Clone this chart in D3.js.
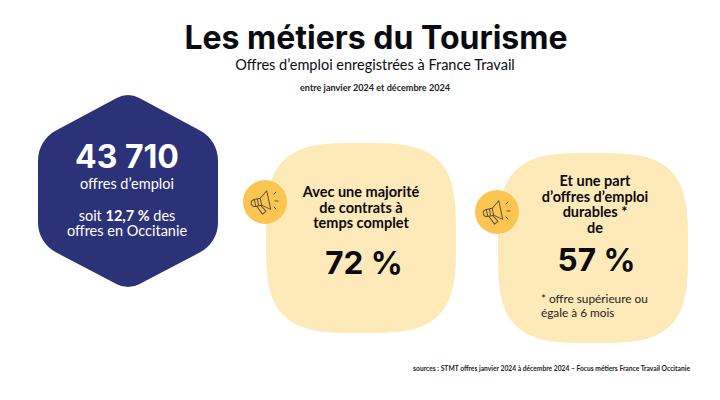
<!DOCTYPE html>
<html>
<head>
<meta charset="utf-8">
<script src="https://cdn.jsdelivr.net/npm/d3@7"></script>
<style>
  html, body { margin: 0; padding: 0; background: #fff; }
  text { font-family: Lato, sans-serif; }
  text.big { font-family: Inter, sans-serif; }
</style>
</head>
<body>
<div id="chart"></div>
<script>
var width = 720, height = 400;

// Texts and figures
var title = "Les métiers du Tourisme";
var subtitle = "Offres d’emploi enregistrées à France Travail";
var period = "entre janvier 2024 et décembre 2024";
var totalOffers = "43 710";
var totalLabel = "offres d’emploi";
var shareValue = "12,7 %";
var cardLines1 = ["Avec une majorité", "de contrats à", "temps complet"];
var cardValue1 = "72 %";
var cardLines2 = ["Et une part", "d’offres d’emploi", "durables *", "de"];
var cardValue2 = "57 %";
var footnote = ["* offre supérieure ou", "égale à 6 mois"];
var source = "sources : STMT offres janvier 2024 à décembre 2024 – Focus métiers France Travail Occitanie";

var navy = "#2b3278", cream = "#fee9b9", amber = "#fbc551", ink = "#0b0b0f";

var svg = d3.select("#chart").append("svg")
    .attr("width", width)
    .attr("height", height)
    .style("display", "block");

function label(x, y, txt, size, weight, anchor, fill) {
  return svg.append("text")
      .attr("x", x).attr("y", y)
      .attr("font-size", size)
      .attr("font-weight", weight)
      .attr("text-anchor", anchor || "middle")
      .attr("fill", fill || ink)
      .text(txt);
}

// Header
label(376, 49, title, 32, 700).attr("class", "big");
label(375, 70, subtitle, 14.5, 400);
label(375, 91, period, 9.1, 700, "middle", "#222");

// Rounded hexagon
var hex = d3.path();
var corners = [[128, 92], [218, 140], [218, 243], [128, 290], [38, 243], [38, 140]];
hex.moveTo(173, 116);
[1, 2, 3, 4, 5, 0].forEach(function(i) {
  var p = corners[i], next = corners[(i + 1) % 6];
  hex.arcTo(p[0], p[1], next[0], next[1], i == 0 || i == 3 ? 24 : 34);
});
hex.closePath();
svg.append("path").attr("d", hex.toString()).attr("fill", navy);

label(127, 168, totalOffers, 32, 700, "middle", "#fff").attr("class", "big");
label(127, 189, totalLabel, 14.5, 400, "middle", "#fff");
var share = label(127, 220.5, "soit ", 14.5, 400, "middle", "#fff");
share.append("tspan").attr("font-weight", 700).text(shareValue);
share.append("tspan").text(" des");
label(127, 236, "offres en Occitanie", 14.5, 400, "middle", "#fff");

// Cards: superellipse blobs
function blob(x0, x1, y0, y1) {
  var n = 3.4;
  var sx = d3.scaleLinear().domain([-1, 1]).range([x0, x1]);
  var sy = d3.scaleLinear().domain([-1, 1]).range([y0, y1]);
  var line = d3.line()
      .x(function(t) { var c = Math.cos(t); return sx(Math.sign(c) * Math.pow(Math.abs(c), 2 / n)); })
      .y(function(t) { var s = Math.sin(t); return sy(Math.sign(s) * Math.pow(Math.abs(s), 2 / n)); })
      .curve(d3.curveLinearClosed);
  return line(d3.range(0, 2 * Math.PI, 0.02));
}

svg.append("path").attr("d", blob(266, 456, 143, 333)).attr("fill", cream);
svg.append("path").attr("d", blob(498, 688, 153, 343)).attr("fill", cream);

// Megaphone badge
function badge(cx, cy) {
  var g = svg.append("g").attr("transform", "translate(" + cx + "," + cy + ")");
  g.append("circle").attr("r", 22).attr("fill", amber);
  var stroke = g.append("g")
      .attr("fill", "none")
      .attr("stroke", "#5f5040")
      .attr("stroke-width", 1)
      .attr("stroke-linejoin", "round")
      .attr("stroke-linecap", "round");
  var horn = stroke.append("g").attr("transform", "translate(-3,0) rotate(-12)");
  horn.append("path").attr("d", "M-7,-4 L-1,-4 L7,-10 L7,9 L-1,3 L-7,3 Z");
  horn.append("path").attr("d", "M-7,-4 C-12,-4 -12,3 -7,3");
  horn.append("path").attr("d", "M-4,-4 L-4,3 M-1,-4 L-1,3");
  horn.append("path").attr("d", "M-6,3 L-2,12 L2,10 L-2,3");
  stroke.append("path").attr("d", "M9,-8 L11,-10 M10,-1 L13,-1 M9,5 L11,7");
}
badge(265, 202);
badge(497, 212);

// Card contents
[197, 212.5, 228].forEach(function(y, i) {
  label(361, y, cardLines1[i], 14.5, 700);
});
label(364, 274, cardValue1, 31.5, 700).attr("class", "big");

[186, 201.7, 217.4, 233].forEach(function(y, i) {
  label(595, y, cardLines2[i], 14.5, 700);
});
label(596.5, 271, cardValue2, 31.5, 700).attr("class", "big");

[303, 317].forEach(function(y, i) {
  label(541, y, footnote[i], 11.8, 400, "start", "#222");
});

// Source
label(690, 371, source, 6.7, 700, "end", "#222");
</script>
</body>
</html>
